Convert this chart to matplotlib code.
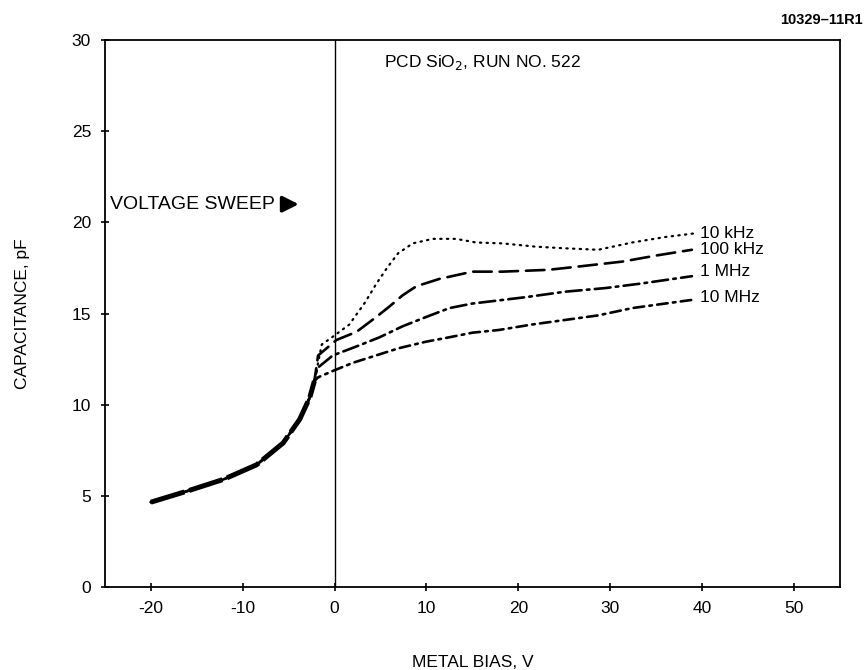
import matplotlib.pyplot as plt

plt.rcParams["font.family"] = ["Liberation Sans", "DejaVu Sans"]

# shared depletion branch (all frequencies overlap here)
x_low = [-20, -16.1, -12.1, -8.5, -5.6, -3.8, -2.7, -2.2]
y_low = [4.65, 5.25, 5.9, 6.7, 7.9, 9.2, 10.4, 11.3]

x_10k = [-1.4, 0, 1.6, 3.3, 4.5, 5.7, 6.9, 8.5, 10.7, 13.2, 15.4, 18.3, 21.9, 25.1, 28.7, 32.4, 36, 39.2]
y_10k = [13.3, 13.8, 14.4, 15.6, 16.6, 17.5, 18.3, 18.85, 19.1, 19.1, 18.9, 18.85, 18.67, 18.58, 18.5, 18.9, 19.2, 19.4]

x_100k = [-1.8, 0.2, 2.4, 4.5, 6.0, 7.4, 8.9, 11.4, 15, 18.3, 23.3, 26.9, 31.3, 35.2, 38.9]
y_100k = [12.7, 13.55, 14.0, 14.8, 15.4, 16.0, 16.5, 16.9, 17.3, 17.3, 17.4, 17.6, 17.85, 18.2, 18.5]

x_1m = [-1.9, -0.2, 2.4, 4.9, 7.4, 9.9, 12.5, 15, 17.5, 20.8, 25.1, 29.5, 33.4, 38.9]
y_1m = [12.0, 12.7, 13.2, 13.7, 14.3, 14.8, 15.3, 15.55, 15.7, 15.9, 16.2, 16.4, 16.65, 17.05]

x_10m = [-1.8, -0.2, 2, 4.5, 7, 9.9, 12.5, 15, 17.9, 21.5, 25.1, 28.7, 32.4, 36, 38.9]
y_10m = [11.5, 11.85, 12.3, 12.7, 13.1, 13.45, 13.7, 13.95, 14.1, 14.4, 14.65, 14.9, 15.3, 15.55, 15.75]

labels = ["10 kHz", "100 kHz", "1 MHz", "10 MHz"]
label_y = [19.4, 18.5, 17.3, 15.9]
x_ticks = [-20, -10, 0, 10, 20, 30, 40, 50]
y_ticks = [0, 5, 10, 15, 20, 25, 30]

fig = plt.figure(figsize=(8.64, 6.7), dpi=100)
ax = fig.add_axes([0.1215, 0.124, 0.8505, 0.816])

series = [(x_10k, y_10k, (0, (0.6, 2.4)), 1.6),
          (x_100k, y_100k, (0, (7, 3)), 1.9),
          (x_1m, y_1m, (0, (6, 2, 1, 2)), 1.9),
          (x_10m, y_10m, (0, (4, 2, 1, 2)), 1.9)]

for x, y, ls, lw in series:
    ax.plot(x_low + x, y_low + y, color="black", linestyle=ls, linewidth=lw,
            dash_capstyle="round")

# heavy overlapping low-bias region
ax.plot(x_low, y_low, color="black", linewidth=3.6, linestyle=(0, (7, 1)))

for lab, ly in zip(labels, label_y):
    ax.text(39.8, ly, lab, fontsize=12.5, va="center", ha="left")

ax.axvline(0, color="black", linewidth=1.0)

ax.text(5.4, 28.8, "PCD SiO$_2$, RUN NO. 522", fontsize=12.5, va="center")
ax.text(-24.5, 21.0, "VOLTAGE SWEEP", fontsize=14, va="center")
ax.annotate("", xy=(-3.6, 21.0), xytext=(-5.2, 21.0),
            arrowprops=dict(arrowstyle="-|>", color="black", lw=2.5,
                            mutation_scale=24))

ax.set_xlim(-25, 55)
ax.set_ylim(0, 30)
ax.set_xticks(x_ticks)
ax.set_xticklabels([str(t) for t in x_ticks])
ax.set_yticks(y_ticks)
ax.tick_params(direction="inout", length=6, width=1.2, labelsize=12.5, pad=7)
for s in ax.spines.values():
    s.set_linewidth(1.3)

ax.set_xlabel("METAL BIAS, V", fontsize=12.5, labelpad=28)
ax.set_ylabel("CAPACITANCE, pF", fontsize=12.5, labelpad=30)

fig.text(0.998, 0.970, "10329\u201311R1", fontsize=10.5, fontweight="bold",
         ha="right", va="center")

fig.savefig("out.png", dpi=100)
